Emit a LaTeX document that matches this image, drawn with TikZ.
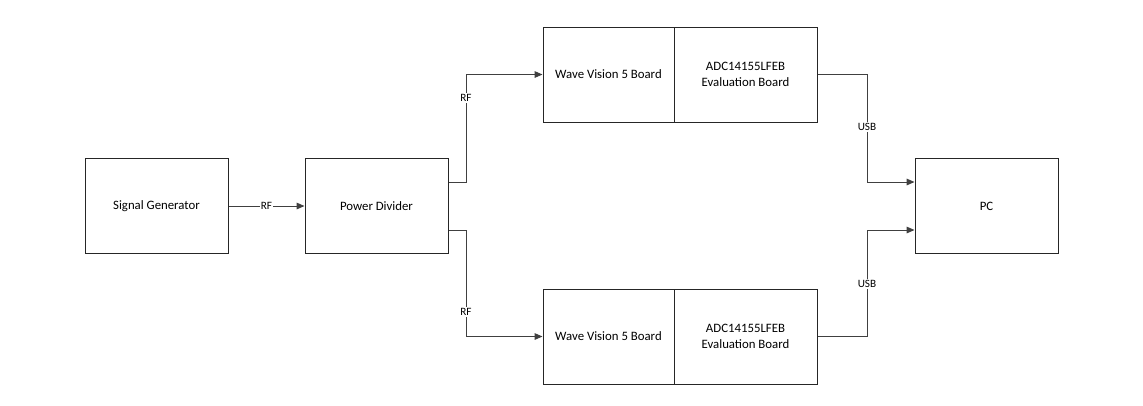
\documentclass[tikz,border=0pt]{standalone}
\usepackage{fontspec}
\setmainfont{Carlito}
\usetikzlibrary{calc,arrows.meta}
\begin{document}
\begin{tikzpicture}[x=0.75pt,y=-0.75pt,
  box/.style={draw=black!85,line width=0.75pt,minimum height=71.25pt,inner sep=2pt,align=center,font=\fontsize{9.6}{11.5}\selectfont},
  wide/.style={box,minimum width=107.25pt},
  narrow/.style={box,minimum width=98.25pt},
  conn/.style={draw=black!75,line width=0.75pt,-{Triangle[length=6pt,width=5pt]}},
  lbl/.style={fill=white,inner sep=1pt,font=\fontsize{8.4}{10}\selectfont}]
\useasboundingbox (0,0) rectangle (1143,405);
\node[wide] (sg) at (156.5,206) {Signal Generator};
\node[wide] (pd) at (376.5,206) {Power Divider};
\node[narrow] (wv1) at (608.5,74.5) {Wave Vision 5 Board};
\node[wide] (adc1) at (745.5,74.5) {ADC14155LFEB\\Evaluation Board};
\node[narrow] (wv2) at (608.5,336.5) {Wave Vision 5 Board};
\node[wide] (adc2) at (745.5,336.5) {ADC14155LFEB\\Evaluation Board};
\node[wide] (pc) at (986.5,206) {PC};
\coordinate (rfx) at (466,0);
\coordinate (usbx) at (867,0);
\coordinate (pdu) at ($(pd.north east)!0.25!(pd.south east)$);
\coordinate (pdl) at ($(pd.north east)!0.75!(pd.south east)$);
\coordinate (pcu) at ($(pc.north west)!0.25!(pc.south west)$);
\coordinate (pcl) at ($(pc.north west)!0.75!(pc.south west)$);
\draw[conn] (sg.east) -- node[lbl]{RF} (pd.west);
\draw[conn] (pdu) -- (pdu -| rfx) -- node[lbl,pos=0.785]{RF} (wv1.west -| rfx) -- (wv1.west);
\draw[conn] (pdl) -- (pdl -| rfx) -- node[lbl,pos=0.766]{RF} (wv2.west -| rfx) -- (wv2.west);
\draw[conn] (adc1.east) -- (adc1.east -| usbx) -- node[lbl,pos=0.49]{USB} (pcu -| usbx) -- (pcu);
\draw[conn] (adc2.east) -- (adc2.east -| usbx) -- node[lbl,pos=0.495]{USB} (pcl -| usbx) -- (pcl);
\end{tikzpicture}
\end{document}
